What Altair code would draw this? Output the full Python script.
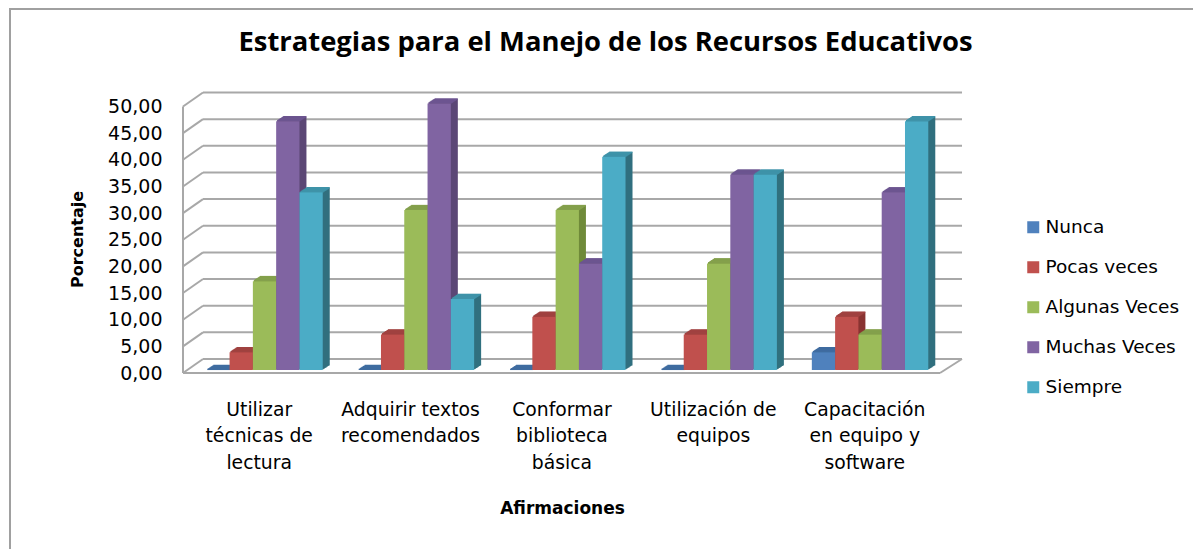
import json
import altair as alt
import pandas as pd

categorias = ["Utilizar\ntécnicas de\nlectura", "Adquirir textos\nrecomendados", "Conformar\nbiblioteca\nbásica", "Utilización  de\nequipos", "Capacitación\nen equipo y\nsoftware"]
series = ["Nunca", "Pocas veces", "Algunas Veces", "Muchas Veces", "Siempre"]
nunca = [0, 0, 0, 0, 3.33]
pocas = [3.33, 6.67, 10, 6.67, 10]
algunas = [16.67, 30, 30, 20, 6.67]
muchas = [46.67, 50, 20, 36.67, 33.33]
siempre = [33.33, 13.33, 40, 36.67, 46.67]
frente = ["#4F81BD", "#C0504D", "#9BBB59", "#8064A2", "#4BACC6"]
lateral = ["#34608E", "#8A3432", "#6F8A3A", "#5C4776", "#31707F"]
techo = ["#3F6CA0", "#A04240", "#84A04C", "#6C5590", "#3F93A9"]
marcas = [0, 5, 10, 15, 20, 25, 30, 35, 40, 45, 50]

PASO = 6.5
filas = []
for j, (s, vals, lc, tc) in enumerate(zip(series, [nunca, pocas, algunas, muchas, siempre], lateral, techo)):
    for k, v in enumerate(vals):
        p = k * PASO + 1 + j
        filas.append({"p": p, "p2": p + 1, "serie": s, "valor": v, "lat": lc, "tec": tc})
df = pd.DataFrame(filas)
grid = pd.DataFrame({"v": marcas})
centros = [k * PASO + 3.25 for k in range(len(categorias))]

FONT = "DejaVu Sans"
PX = 5.33
UX = 23.29
W, H = 779, 281
DEPTH_X, DEPTH_Y = 20, 14
BACK = DEPTH_Y / PX
GRIS = "#A8A8A8"
FRONT_W = W - DEPTH_X - 2

yscale = alt.Scale(domain=[0, H / PX], nice=False, zero=False)
xscale = alt.Scale(domain=[0, W / UX], range=[0, W], nice=False, zero=False)
nombres = json.dumps(categorias)
xenc = alt.X("p:Q", scale=xscale, title="Afirmaciones",
             axis=alt.Axis(values=centros,
                           labelExpr=f"split({nombres}[round((datum.value - 3.25) / {PASO})], '\\n')",
                           labelAngle=0, labelAlign="center", labelBaseline="top", labelOverlap=False, labelFlush=False,
                           labelFont=FONT, labelFontSize=18.8, labelColor="black", labelLineHeight=26.5, labelPadding=27,
                           domain=False, ticks=False, grid=False, labelLimit=0,
                           titleFont=FONT, titleFontSize=17, titleFontWeight="bold", titleColor="black",
                           titleX=379, titleY=135, titleBaseline="middle"))

yaxis = alt.Axis(values=marcas, labelExpr="replace(format(datum.value, '.2f'), '.', ',')", labelOverlap=False,
                 labelFont=FONT, labelFontSize=19, labelColor="black", labelPadding=21, labelBound=False, labelFlush=False,
                 domain=False, ticks=False, grid=False, title="Porcentaje",
                 titleFont=FONT, titleFontSize=16, titleFontWeight="bold", titleColor="black",
                 titleX=-106, titleY=147, titleAngle=270, titleAlign="center", titleBaseline="middle")
yenc = alt.Y("v:Q", scale=yscale, axis=yaxis)
yvalor = alt.Y("valor:Q", scale=yscale, axis=yaxis)

base_grid = alt.Chart(grid).transform_calculate(b=f"datum.v + {BACK}")
pared = base_grid.mark_rule(color=GRIS, strokeWidth=2).encode(
    y=alt.Y("b:Q", scale=yscale, axis=yaxis), x=alt.value(DEPTH_X), x2=alt.value(W))
diag = base_grid.mark_rule(color=GRIS, strokeWidth=2).encode(
    y=yenc, y2="b:Q", x=alt.value(0), x2=alt.value(DEPTH_X))
suelo_base = alt.Chart(pd.DataFrame({"v": [0]})).transform_calculate(b=f"datum.v + {BACK}")
suelo = suelo_base.mark_rule(color=GRIS, strokeWidth=2).encode(
    y=yenc, x=alt.value(0), x2=alt.value(FRONT_W))
suelo_d = suelo_base.mark_rule(color=GRIS, strokeWidth=2).encode(
    y=yenc, y2="b:Q", x=alt.value(FRONT_W), x2=alt.value(W))
eje = alt.Chart(pd.DataFrame({"v": [0], "t": [50]})).mark_rule(color=GRIS, strokeWidth=2).encode(
    y=yenc, y2="t:Q", x=alt.value(0))

OY = -3
capas = [pared, diag, suelo, suelo_d, eje]
for i in range(7, 0, -1):
    dy = round(i * 0.65, 2)
    capas.append(alt.Chart(df).mark_bar(xOffset=i, x2Offset=i, yOffset=OY - dy, y2Offset=OY - dy).encode(
        x=xenc, x2="p2:Q", y=yvalor, y2=alt.Y2(datum=0),
        color=alt.Color("lat:N", scale=None)))
for i in range(7, 0, -1):
    dy = round(i * 0.65, 2)
    capas.append(alt.Chart(df).mark_bar(xOffset=i, x2Offset=i, yOffset=OY - dy - 0.7, y2Offset=OY - dy + 0.7).encode(
        x=xenc, x2="p2:Q", y=yvalor, y2=alt.Y2("valor:Q"),
        color=alt.Color("tec:N", scale=None)))

barras = alt.Chart(df).mark_bar(yOffset=OY, y2Offset=OY).encode(
    x=xenc, x2="p2:Q", y=yvalor, y2=alt.Y2(datum=0),
    fill=alt.Fill("serie:N", sort=series, scale=alt.Scale(domain=series, range=frente),
                  legend=alt.Legend(orient="none", legendX=841, legendY=126, title=None, symbolType="square",
                                    symbolSize=144, symbolStrokeWidth=0, labelFont=FONT, labelFontSize=18.5,
                                    labelColor="black", rowPadding=21, labelOffset=3, labelLimit=0)))
capas.append(barras)

borde = alt.Chart(pd.DataFrame({"a": [0]})).mark_rect(fill=None, stroke="#A0A0A0", strokeWidth=2, clip=False).encode(
    x=alt.value(-173), x2=alt.value(1100), y=alt.value(-83), y2=alt.value(500))
capas.append(borde)

chart = alt.layer(*capas).properties(
    width=W, height=H,
    title=alt.TitleParams("Estrategias para el Manejo de los Recursos Educativos", font="Open Sans", fontSize=27.4,
                          fontWeight="bold", color="black", anchor="middle", dx=33, offset=-48),
    padding={"left": 175, "top": 84, "right": 231, "bottom": 176},
    autosize=alt.AutoSizeParams(type="none"), background="white",
).configure_view(stroke=None).configure_axis(labelOverlap=False)

chart.save("out.html", embed_options={"renderer": "svg", "actions": False})
